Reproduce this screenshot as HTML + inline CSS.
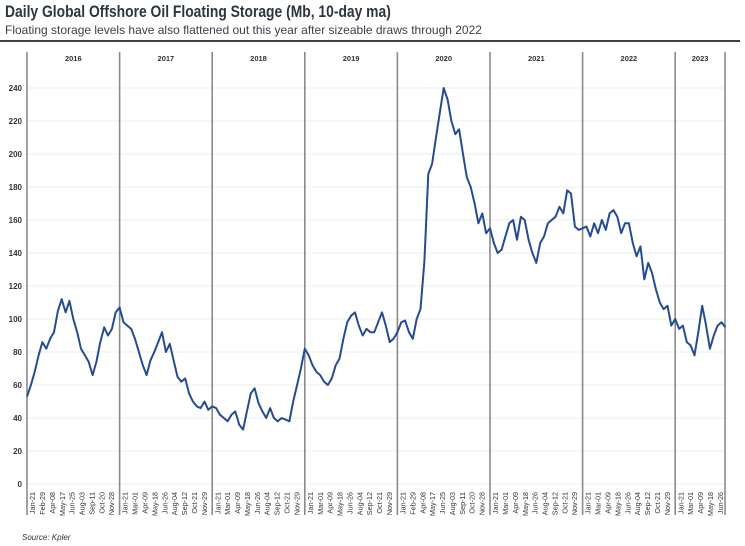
<!DOCTYPE html>
<html><head><meta charset="utf-8"><style>
body{margin:0;background:#fff;width:745px;height:546px;overflow:hidden;font-family:"Liberation Sans",sans-serif}
#title{position:absolute;left:5px;top:3px;font-size:16.5px;font-weight:bold;color:#2d3640;transform:scaleX(0.84);transform-origin:left top;white-space:nowrap}
#sub{position:absolute;left:5px;top:23px;font-size:12px;color:#3a4048;white-space:nowrap}
#rule{position:absolute;left:0;top:40px;width:740px;height:2px;background:#3c4148}
svg{position:absolute;left:0;top:0}
</style></head><body>
<div id="title">Daily Global Offshore Oil Floating Storage (Mb, 10-day ma)</div>
<div id="sub">Floating storage levels have also flattened out this year after sizeable draws through 2022</div>
<div id="rule"></div>
<svg id="chart" width="745" height="546"></svg>
<script>
const years=["2016","2017","2018","2019","2020","2021","2022","2023"];
const yTicks=[0,20,40,60,80,100,120,140,160,180,200,220,240];
const tickLeap=["Jan-21","Feb-29","Apr-08","May-17","Jun-25","Aug-03","Sep-11","Oct-20","Nov-28"];
const tickNorm=["Jan-21","Mar-01","Apr-09","May-18","Jun-26","Aug-04","Sep-12","Oct-21","Nov-29"];
// half-monthly values, Mb
const v2016=[53,60,68,78,86,82,88,92,105,112,104,111,100,92,82,78,74,66,74,86,95,90,94,104];
const v2017=[107,98,96,94,88,80,72,66,75,80,86,92,80,85,75,65,62,64,55,50,47,46,50,45];
const v2018=[47,46,42,40,38,42,44,36,33,44,55,58,49,44,40,46,40,38,40,39,38,50,60,70];
const v2019=[82,78,72,68,66,62,60,64,72,76,88,98,102,104,96,90,94,92,92,98,104,96,86,88];
const v2020=[92,98,99,92,88,100,106,135,188,194,210,225,240,233,220,212,215,200,186,180,170,158,164,152];
const v2021=[155,146,140,142,150,158,160,148,162,160,148,140,134,146,150,158,160,162,168,164,178,176,156,154];
const v2022=[155,156,150,158,152,160,154,164,166,162,152,158,158,146,138,144,124,134,128,118,110,106,108,96];
const v2023=[100,94,96,86,84,78,92,108,96,82,90,96,98,95];
const series=[].concat(v2016,v2017,v2018,v2019,v2020,v2021,v2022,v2023);

const svg=document.getElementById('chart');const NS='http://www.w3.org/2000/svg';
const X0=27,YW=92.6,Y0=484,PPU=1.65;
const xYear=t=>X0+t*YW;
const y=v=>Y0-v*PPU;
function mk(tag,a,p){const e=document.createElementNS(NS,tag);for(const k in a)e.setAttribute(k,a[k]);(p||svg).appendChild(e);return e;}
yTicks.forEach(v=>{
  const g=mk('line',{x1:X0,x2:725,y1:y(v),y2:y(v),stroke:'#ececec','stroke-width':1});
  
  
  const t=mk('text',{x:22,y:y(v)+3,'text-anchor':'end','font-size':8,'font-weight':'bold',fill:'#333'});
  t.textContent=v;
  
  
});
for(let i=0;i<=8;i++){
  const xx=i<8?xYear(i):725;
  const l=mk('line',{x1:xx,x2:xx,y1:52,y2:515,stroke:'#8a8a8a','stroke-width':1.6});
  
  
}
years.forEach((yr,i)=>{
  const cx=i<7?xYear(i+0.5):(xYear(7)+725)/2;
  const t=mk('text',{x:cx,y:61,'text-anchor':'middle','font-size':7.5,'font-weight':'bold',fill:'#333'});
  t.textContent=yr;
  
  
  const labs=(yr==="2016"||yr==="2020")?tickLeap:tickNorm;
  const n=yr==="2023"?5:9;
  for(let k=0;k<n;k++){
    const tx=xYear(i+(20+k*39)/365)+3;
    const tt=mk('text',{x:0,y:0,'text-anchor':'end','font-size':7.2,fill:'#333',transform:`translate(${tx},492) rotate(-90)`});
    tt.textContent=labs[k];
    
    
  }
});
const pts=series.map((v,i)=>xYear(i/24).toFixed(1)+','+y(v).toFixed(1)).join(' ');
const pl=mk('polyline',{points:pts,fill:'none',stroke:'#254b93','stroke-width':2,'stroke-linejoin':'round'});


const src=mk('text',{x:22,y:540,'font-size':8,'font-style':'italic',fill:'#333'});
src.textContent='Source: Kpler';


</script>
</body></html>
